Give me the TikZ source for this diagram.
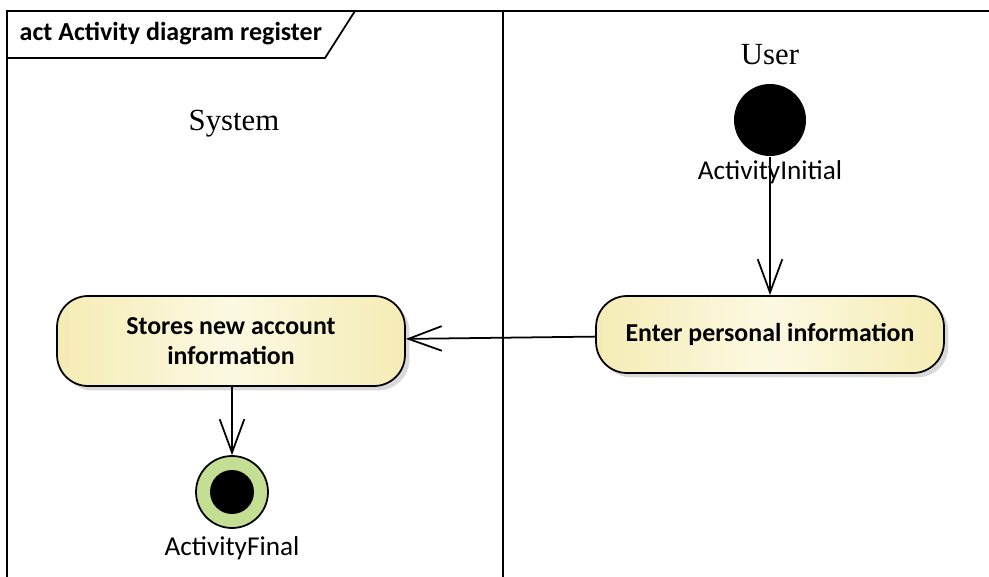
\documentclass[tikz,border=0pt]{standalone}
\usepackage{fontspec}
\setmainfont{Liberation Serif}
\newfontfamily\calibri{Carlito}
\usetikzlibrary{arrows.meta,shadows,positioning}

\definecolor{actedge}{RGB}{245,236,180}
\definecolor{actmid}{RGB}{252,249,226}
\definecolor{finfill}{RGB}{196,222,148}

\tikzset{
  action/.style={rectangle, rounded corners=0.62cm, draw, line width=1pt,
    minimum width=6.96cm, minimum height=1.54cm, align=center,
    left color=actedge, right color=actedge, middle color=actmid,
    drop shadow={shadow xshift=2.5pt, shadow yshift=-2.5pt, fill=black!15, opacity=1},
    font=\calibri\bfseries\fontsize{14.7}{17.5}\selectfont},
  initial/.style={circle, fill=black, minimum size=1.44cm, inner sep=0pt},
  final/.style={circle, draw, line width=1pt, fill=finfill, minimum size=1.44cm, inner sep=0pt,
    path picture={\fill[black] (path picture bounding box.center) circle (0.44cm);}},
  nodelabel/.style={font=\calibri\fontsize{15.5}{18}\selectfont},
  lanename/.style={font=\fontsize{17.5}{20}\selectfont}
}

\begin{document}
\begin{tikzpicture}[x=0.02cm, y=-0.02cm, line width=1pt,
  >={Straight Barb[length=19pt, width=14pt, line width=1pt]}]
\useasboundingbox (0,0) rectangle (989,577);

% frame and partitions
\draw (7,577) -- (7,11) -- (989,11);
\draw (503,11) -- (503,577);
\draw (7,58) -- (325,58) -- (355,11);
\node[anchor=west, font=\calibri\bfseries\fontsize{14.8}{17}\selectfont] (title) at (13,34) {act Activity diagram register};
\node[lanename] (system) at (234,124) {System};
\node[lanename] (user) at (770,55) {User};

% nodes
\node[initial] (start) at (770,120) {};
\node[nodelabel] (startlbl) at (770,172) {ActivityInitial};
\node[action] (enter) at (770,334.5) {Enter personal information};
\node[action, minimum height=1.8cm] (store) at (231,341) {Stores new account\\information};
\node[final] (stop) at (232,492) {};
\node[nodelabel] (stoplbl) at (232,548) {ActivityFinal};

% flows
\draw [->] (start) -- (enter);
\draw [->] (enter) -- (store);
\draw [->] (store.south -| stop) -- (stop);
\end{tikzpicture}
\end{document}
